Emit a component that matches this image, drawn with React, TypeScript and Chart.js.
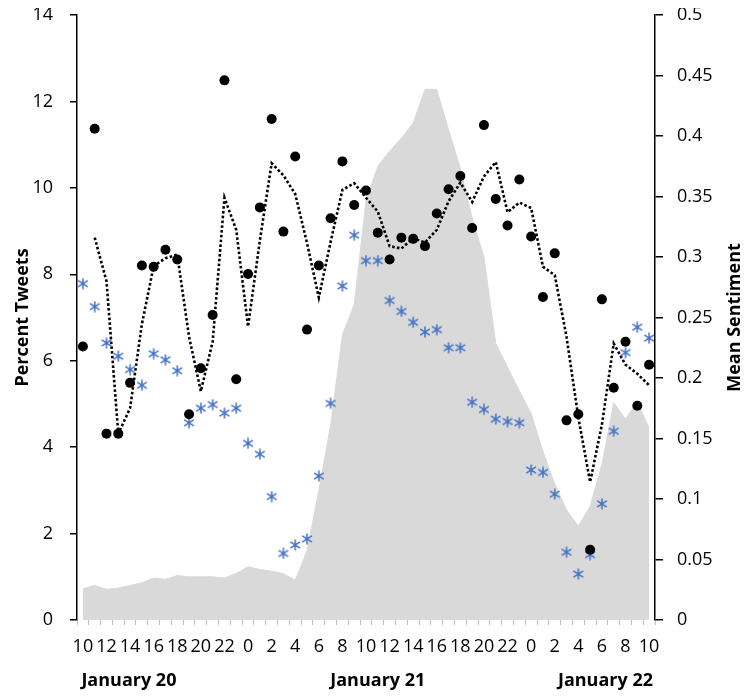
import { useEffect, useRef } from 'react';
import { Chart, registerables } from 'chart.js';

Chart.register(...registerables);

// Hour of day for each hourly category (Jan 20 10:00 → Jan 22 10:00)
const hours = [
  10, 11, 12, 13, 14, 15, 16, 17, 18, 19, 20, 21, 22, 23,
  0, 1, 2, 3, 4, 5, 6, 7, 8, 9, 10, 11, 12, 13, 14, 15, 16, 17, 18, 19, 20, 21, 22, 23,
  0, 1, 2, 3, 4, 5, 6, 7, 8, 9, 10,
];

const dayLabels = ['January 20', 'January 21', 'January 22'];

// Percent of tweets per hour (left axis, grey area)
const percentTweets = [
  0.72, 0.8, 0.71, 0.74, 0.8, 0.86, 0.97, 0.94, 1.03, 1.0, 1.0, 1.0, 0.97, 1.08,
  1.23, 1.17, 1.13, 1.07, 0.92, 1.6, 3.0, 4.5, 6.6, 7.3, 9.7, 10.5, 10.85, 11.15, 11.5, 12.28,
  12.28, 11.35, 10.45, 9.3, 8.4, 6.4, 5.85, 5.3,
  4.78, 3.9, 3.15, 2.55, 2.17, 2.63, 3.6, 5.03, 4.65, 5.05, 4.44,
];

// Mean sentiment, black dots (right axis)
const sentimentDots = [
  0.226, 0.406, 0.154, 0.154, 0.196, 0.293, 0.292, 0.306, 0.298, 0.17, 0.208, 0.252, 0.446, 0.199,
  0.286, 0.341, 0.414, 0.321, 0.383, 0.24, 0.293, 0.332, 0.379, 0.343, 0.355, 0.32, 0.298, 0.316,
  0.315, 0.309, 0.336, 0.356, 0.367, 0.324, 0.409, 0.348, 0.326, 0.364,
  0.317, 0.267, 0.303, 0.165, 0.17, 0.058, 0.265, 0.192, 0.23, 0.177, 0.211,
];

// Two-period moving average of the black dots (dotted line)
const sentimentTrend = [
  null, 0.316, 0.28, 0.154, 0.175, 0.2445, 0.2925, 0.299, 0.302, 0.234, 0.189, 0.23, 0.349, 0.3225,
  0.2425, 0.3135, 0.3775, 0.3675, 0.352, 0.3115, 0.2665, 0.3125, 0.3555, 0.361, 0.349, 0.3375, 0.309, 0.307,
  0.3155, 0.312, 0.3225, 0.346, 0.3615, 0.3455, 0.3665, 0.3785, 0.337, 0.345,
  0.3405, 0.292, 0.285, 0.234, 0.1675, 0.114, 0.1615, 0.2285, 0.211, 0.2035, 0.194,
];

// Mean sentiment, blue asterisks (right axis)
const sentimentStars = [
  0.278, 0.259, 0.229, 0.218, 0.207, 0.194, 0.22, 0.215, 0.206, 0.163, 0.175, 0.178, 0.171, 0.175,
  0.146, 0.137, 0.102, 0.055, 0.062, 0.067, 0.119, 0.179, 0.276, 0.318, 0.297, 0.297, 0.264, 0.255,
  0.246, 0.238, 0.24, 0.225, 0.225, 0.18, 0.174, 0.166, 0.164, 0.163,
  0.124, 0.122, 0.104, 0.056, 0.038, 0.054, 0.096, 0.156, 0.221, 0.242, 0.233,
];

const FONT = "'Open Sans', sans-serif";

export default function App() {
  const ref = useRef<HTMLCanvasElement>(null);

  useEffect(() => {
    const canvas = ref.current;
    if (!canvas) return;

    // asterisk marker
    const star = document.createElement('canvas');
    star.width = 12;
    star.height = 12;
    const sctx = star.getContext('2d')!;
    sctx.strokeStyle = '#4472C4';
    sctx.lineWidth = 1.5;
    sctx.beginPath();
    sctx.moveTo(6, 0.5);
    sctx.lineTo(6, 11.5);
    sctx.moveTo(1.2, 2.8);
    sctx.lineTo(10.8, 9.2);
    sctx.moveTo(1.2, 9.2);
    sctx.lineTo(10.8, 2.8);
    sctx.stroke();

    const overlay = {
      id: 'overlayText',
      afterDraw(chart: any) {
        const ctx = chart.ctx;
        const xs = chart.scales.x;
        const x0 = xs.getPixelForValue(0);
        const step = xs.getPixelForValue(1) - x0;
        const pos = [3.9, 25, 44.3];
        ctx.save();
        ctx.fillStyle = '#000';
        ctx.textAlign = 'center';
        ctx.textBaseline = 'middle';
        ctx.font = `bold 18px ${FONT}`;
        dayLabels.forEach((t, k) => ctx.fillText(t, x0 + step * pos[k], chart.height - 9));
        const ca = chart.chartArea;
        ctx.translate(727, (ca.top + ca.bottom) / 2);
        ctx.rotate(-Math.PI / 2);
        ctx.font = `bold 18px ${FONT}`;
        ctx.fillText('Mean Sentiment', 0, 0);
        ctx.restore();
      },
    };

    const fitY = (w: number) => (s: any) => {
      s.width = w;
      s.paddingTop = 0;
      s.paddingBottom = 0;
    };

    const chart = new Chart(canvas, {
      type: 'line',
      data: {
        labels: hours.map(String),
        datasets: [
          {
            label: 'Sentiment',
            data: sentimentDots,
            yAxisID: 'y1',
            showLine: false,
            pointRadius: 5,
            pointHoverRadius: 5,
            pointBackgroundColor: '#000',
            pointBorderWidth: 0,
            borderColor: '#000',
            order: 1,
          },
          {
            label: 'Sentiment 2',
            data: sentimentStars,
            yAxisID: 'y1',
            showLine: false,
            pointStyle: star as any,
            pointRadius: 6,
            pointHoverRadius: 6,
            borderColor: '#4472C4',
            order: 2,
          },
          {
            label: 'Moving average',
            data: sentimentTrend,
            yAxisID: 'y1',
            borderColor: '#000',
            borderWidth: 2.6,
            borderDash: [2.6, 2.2],
            borderCapStyle: 'butt',
            pointRadius: 0,
            tension: 0,
            fill: false,
            spanGaps: false,
            order: 3,
          },
          {
            label: 'Percent Tweets',
            data: percentTweets,
            yAxisID: 'y',
            fill: 'origin',
            backgroundColor: '#d9d9d9',
            borderColor: '#d9d9d9',
            borderWidth: 1,
            pointRadius: 0,
            tension: 0,
            order: 4,
          },
        ],
      },
      options: {
        responsive: false,
        animation: false,
        events: [],
        layout: { padding: { top: 6, left: 0, right: 0, bottom: 0 } },
        plugins: { legend: { display: false }, tooltip: { enabled: false } },
        scales: {
          x: {
            type: 'category',
            offset: true,
            afterFit: (s: any) => {
              s.height = 70;
              s.paddingLeft = 0;
              s.paddingRight = 0;
            },
            grid: {
              display: true,
              drawOnChartArea: false,
              drawTicks: true,
              tickLength: 5,
              color: '#bfbfbf',
              offset: true,
            },
            border: { display: false },
            ticks: {
              autoSkip: false,
              maxRotation: 0,
              minRotation: 0,
              padding: 11,
              color: '#000',
              font: { family: FONT, size: 18 },
              callback: (_v: any, i: number) => (i % 2 === 0 ? String(hours[i]) : ''),
            },
          },
          y: {
            position: 'left',
            min: 0,
            max: 14,
            afterFit: fitY(69),
            grid: { drawOnChartArea: false, drawTicks: true, tickLength: 7, color: '#000', lineWidth: 1.5 },
            border: { display: true, color: '#000', width: 1.5 },
            ticks: { stepSize: 2, padding: 17, color: '#000', font: { family: FONT, size: 18 } },
            title: {
              display: true,
              text: 'Percent Tweets',
              color: '#000',
              font: { family: FONT, size: 18, weight: 'bold' },
              padding: { top: 4, bottom: 0 },
            },
          },
          y1: {
            position: 'right',
            min: 0,
            max: 0.5,
            afterFit: fitY(87),
            grid: { drawOnChartArea: false, drawTicks: true, tickLength: 8, color: '#000', lineWidth: 1.5 },
            border: { display: true, color: '#000', width: 1.5 },
            ticks: {
              stepSize: 0.05,
              padding: 14,
              color: '#000',
              font: { family: FONT, size: 18 },
              callback: (v: any) => Number(v).toFixed(2).replace(/\.?0+$/, ''),
            },
          },
        },
      },
      plugins: [overlay],
    } as any);

    return () => chart.destroy();
  }, []);

  return <canvas ref={ref} width={734} height={682} style={{ display: 'block' }} />;
}
